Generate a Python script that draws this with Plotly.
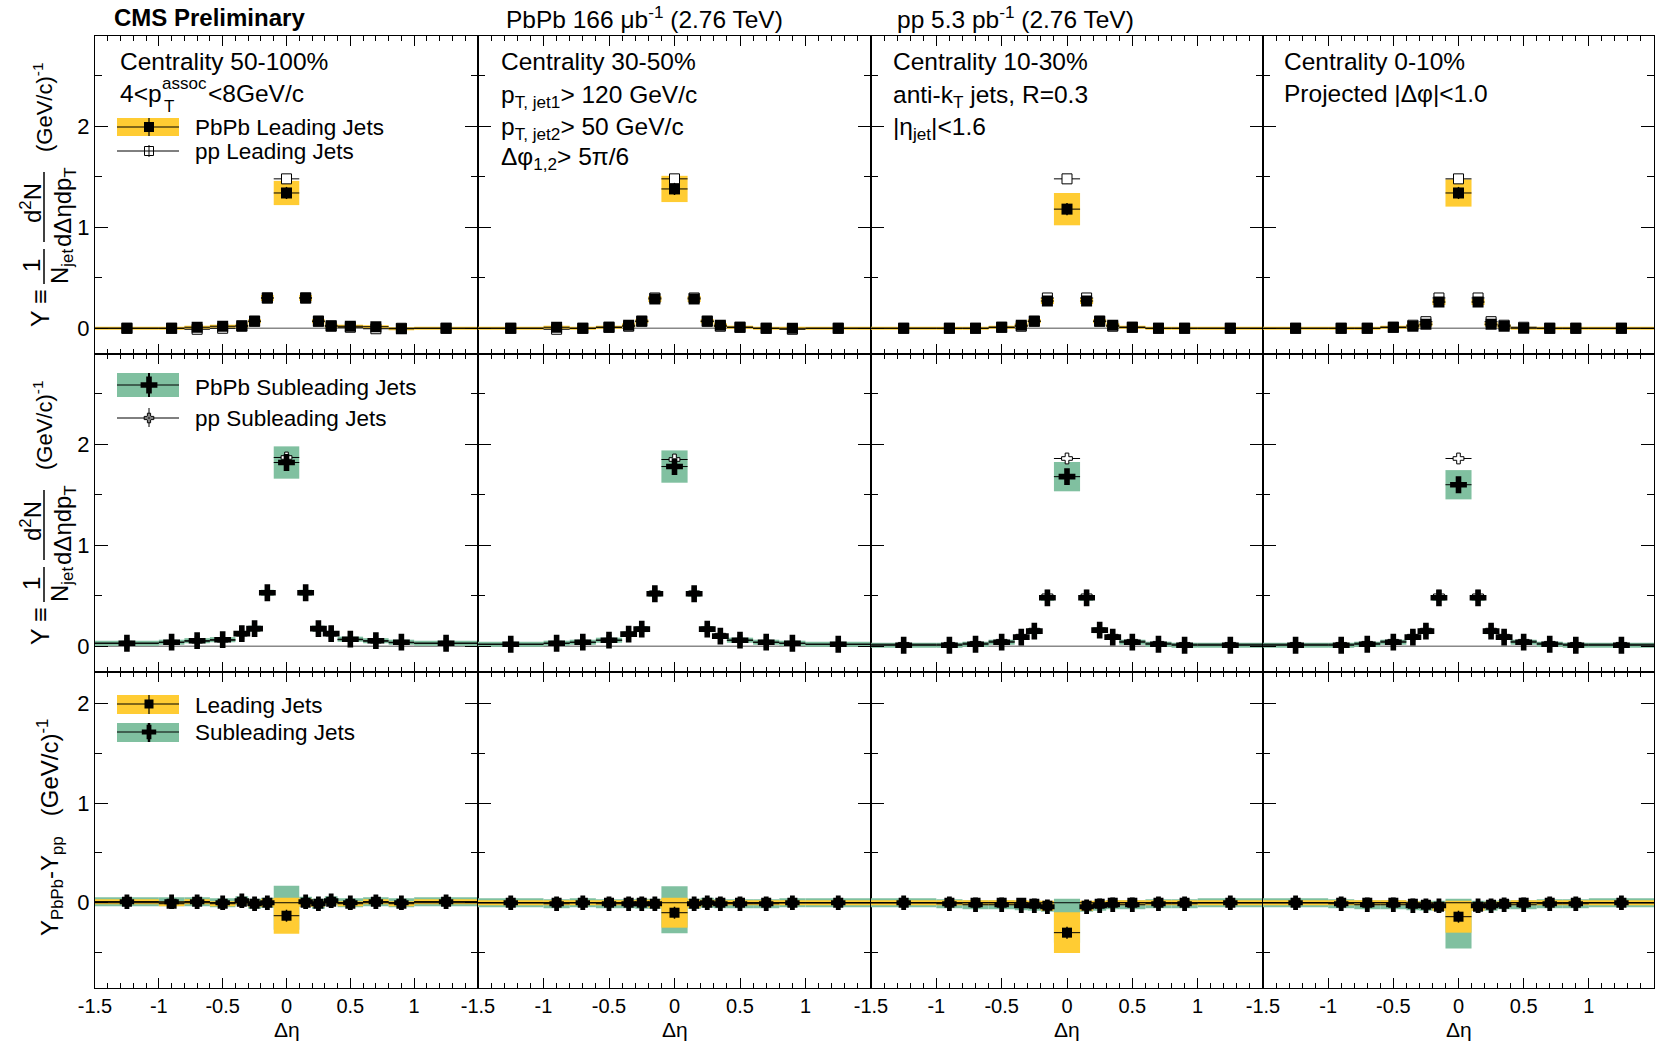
import plotly.graph_objects as go

W, H = 1675, 1041
FONT = "Liberation Sans, Arial, Helvetica, sans-serif"
YELLOW = "#FFCC33"
GREEN = "#80C0A0"

# ---------------- data ----------------
delta_eta = [-1.25, -0.9, -0.7, -0.5, -0.35, -0.25, -0.15, 0.0, 0.15, 0.25, 0.35, 0.5, 0.7, 0.9, 1.25]
bin_half_width = [0.25, 0.1, 0.1, 0.1, 0.05, 0.05, 0.05, 0.1, 0.05, 0.05, 0.05, 0.1, 0.1, 0.1, 0.25]

x_tick_vals = [-1.5, -1, -0.5, 0, 0.5, 1, 1.5]
x_tick_text = ["-1.5", "-1", "-0.5", "0", "0.5", "1", ""]
y_tick_vals = [0, 1, 2]
y_tick_text = ["0", "1", "2"]

centrality_labels = ["Centrality 50-100%", "Centrality 30-50%", "Centrality 10-30%", "Centrality 0-10%"]

# Leading jets: PbPb yields
lead_pbpb_50_100 = [0.00, 0.00, 0.01, 0.02, 0.025, 0.07, 0.30, 1.34, 0.30, 0.07, 0.025, 0.02, 0.015, -0.005, 0.00]
lead_pbpb_30_50 = [0.00, 0.01, 0.00, 0.01, 0.03, 0.07, 0.29, 1.38, 0.29, 0.07, 0.03, 0.01, 0.00, 0.00, 0.00]
lead_pbpb_10_30 = [0.00, 0.00, 0.00, 0.01, 0.03, 0.07, 0.27, 1.18, 0.27, 0.07, 0.03, 0.01, 0.00, 0.00, 0.00]
lead_pbpb_0_10 = [0.00, 0.00, 0.00, 0.01, 0.02, 0.04, 0.26, 1.34, 0.26, 0.04, 0.02, 0.00, 0.00, 0.00, 0.00]
# Leading jets: pp yields
lead_pp_50_100 = [0.00, 0.00, -0.01, 0.00, 0.02, 0.07, 0.30, 1.48, 0.30, 0.07, 0.02, 0.01, -0.005, 0.00, 0.00]
lead_pp_30_50 = [0.00, -0.01, 0.00, 0.01, 0.02, 0.07, 0.30, 1.48, 0.30, 0.07, 0.02, 0.01, 0.00, -0.01, 0.00]
lead_pp_10_30 = [0.00, 0.00, 0.00, 0.01, 0.02, 0.07, 0.30, 1.48, 0.30, 0.07, 0.02, 0.01, 0.00, 0.00, 0.00]
lead_pp_0_10 = [0.00, 0.00, 0.00, 0.01, 0.03, 0.065, 0.30, 1.48, 0.30, 0.065, 0.03, 0.01, 0.00, 0.00, 0.00]
# Leading jets: PbPb systematic half-heights
lead_sys_50_100 = [0.015, 0.015, 0.015, 0.015, 0.02, 0.02, 0.03, 0.12, 0.03, 0.02, 0.02, 0.015, 0.015, 0.015, 0.015]
lead_sys_30_50 = [0.015, 0.015, 0.015, 0.015, 0.02, 0.02, 0.03, 0.13, 0.03, 0.02, 0.02, 0.015, 0.015, 0.015, 0.015]
lead_sys_10_30 = [0.015, 0.015, 0.015, 0.015, 0.02, 0.02, 0.03, 0.16, 0.03, 0.02, 0.02, 0.015, 0.015, 0.015, 0.015]
lead_sys_0_10 = [0.015, 0.015, 0.015, 0.015, 0.02, 0.02, 0.03, 0.135, 0.03, 0.02, 0.02, 0.015, 0.015, 0.015, 0.015]
lead_pbpb_stat = [0.01, 0.01, 0.01, 0.01, 0.01, 0.015, 0.02, 0.06, 0.02, 0.015, 0.01, 0.01, 0.01, 0.01, 0.01]
lead_pp_stat = [0.005, 0.005, 0.005, 0.005, 0.005, 0.01, 0.01, 0.02, 0.01, 0.01, 0.005, 0.005, 0.005, 0.005, 0.005]

# Subleading jets: PbPb yields
sub_pbpb_50_100 = [0.03, 0.04, 0.055, 0.065, 0.125, 0.175, 0.53, 1.82, 0.53, 0.175, 0.125, 0.07, 0.055, 0.04, 0.03]
sub_pbpb_30_50 = [0.02, 0.03, 0.04, 0.06, 0.12, 0.17, 0.52, 1.78, 0.52, 0.17, 0.10, 0.06, 0.04, 0.03, 0.02]
sub_pbpb_10_30 = [0.01, 0.01, 0.02, 0.04, 0.09, 0.15, 0.48, 1.68, 0.48, 0.16, 0.09, 0.04, 0.02, 0.01, 0.01]
sub_pbpb_0_10 = [0.01, 0.01, 0.02, 0.04, 0.09, 0.15, 0.48, 1.60, 0.48, 0.15, 0.09, 0.04, 0.02, 0.01, 0.01]
# Subleading jets: pp yields
sub_pp_50_100 = [0.03, 0.04, 0.05, 0.06, 0.12, 0.17, 0.53, 1.87, 0.53, 0.17, 0.12, 0.065, 0.05, 0.035, 0.03]
sub_pp_30_50 = [0.02, 0.03, 0.04, 0.06, 0.12, 0.17, 0.53, 1.85, 0.53, 0.17, 0.11, 0.06, 0.04, 0.03, 0.02]
sub_pp_10_30 = [0.02, 0.02, 0.03, 0.05, 0.10, 0.16, 0.50, 1.86, 0.50, 0.16, 0.10, 0.05, 0.03, 0.02, 0.02]
sub_pp_0_10 = [0.02, 0.02, 0.03, 0.05, 0.10, 0.16, 0.50, 1.86, 0.50, 0.16, 0.10, 0.05, 0.03, 0.02, 0.02]
# Subleading jets: PbPb systematic half-heights
sub_sys_50_100 = [0.025, 0.025, 0.025, 0.025, 0.025, 0.03, 0.03, 0.16, 0.03, 0.03, 0.025, 0.025, 0.025, 0.025, 0.025]
sub_sys_30_50 = [0.025, 0.025, 0.025, 0.025, 0.025, 0.03, 0.03, 0.16, 0.03, 0.03, 0.025, 0.025, 0.025, 0.025, 0.025]
sub_sys_10_30 = [0.025, 0.025, 0.025, 0.025, 0.025, 0.03, 0.03, 0.145, 0.03, 0.03, 0.025, 0.025, 0.025, 0.025, 0.025]
sub_sys_0_10 = [0.025, 0.025, 0.025, 0.025, 0.025, 0.03, 0.03, 0.145, 0.03, 0.03, 0.025, 0.025, 0.025, 0.025, 0.025]
sub_pbpb_stat = [0.015, 0.015, 0.015, 0.015, 0.02, 0.02, 0.03, 0.075, 0.03, 0.02, 0.02, 0.015, 0.015, 0.015, 0.015]
sub_pp_stat = [0.005, 0.005, 0.005, 0.005, 0.01, 0.01, 0.01, 0.02, 0.01, 0.01, 0.01, 0.005, 0.005, 0.005, 0.005]

# PbPb - pp differences: leading
dlead_50_100 = [0.01, -0.01, 0.01, -0.01, 0.01, -0.01, 0.00, -0.13, 0.00, -0.01, 0.01, -0.01, 0.01, -0.01, 0.01]
dlead_30_50 = [0.00, 0.00, 0.00, 0.00, 0.00, 0.00, -0.01, -0.10, -0.01, 0.00, 0.00, 0.00, 0.00, 0.00, 0.00]
dlead_10_30 = [0.00, 0.00, 0.00, 0.00, 0.00, -0.01, -0.03, -0.30, -0.03, -0.01, 0.00, 0.00, 0.00, 0.00, 0.00]
dlead_0_10 = [0.00, 0.00, 0.00, 0.00, -0.01, -0.02, -0.04, -0.14, -0.04, -0.02, -0.01, 0.00, 0.00, 0.00, 0.00]
dlead_sys_50_100 = [0.025, 0.025, 0.025, 0.025, 0.025, 0.03, 0.04, 0.18, 0.04, 0.03, 0.025, 0.025, 0.025, 0.025, 0.025]
dlead_sys_30_50 = [0.025, 0.025, 0.025, 0.025, 0.025, 0.03, 0.04, 0.15, 0.04, 0.03, 0.025, 0.025, 0.025, 0.025, 0.025]
dlead_sys_10_30 = [0.025, 0.025, 0.025, 0.025, 0.025, 0.03, 0.05, 0.205, 0.05, 0.03, 0.025, 0.025, 0.025, 0.025, 0.025]
dlead_sys_0_10 = [0.025, 0.025, 0.025, 0.025, 0.025, 0.03, 0.04, 0.16, 0.04, 0.03, 0.025, 0.025, 0.025, 0.025, 0.025]
dlead_stat = [0.03, 0.03, 0.03, 0.03, 0.03, 0.03, 0.03, 0.06, 0.03, 0.03, 0.03, 0.03, 0.03, 0.03, 0.03]
# PbPb - pp differences: subleading
dsub_50_100 = [0.01, 0.01, 0.01, 0.00, 0.02, -0.01, 0.00, -0.05, 0.01, -0.01, 0.02, 0.00, 0.01, 0.00, 0.01]
dsub_30_50 = [0.00, -0.01, 0.00, -0.01, -0.01, -0.01, -0.01, -0.07, -0.01, 0.00, -0.01, -0.01, -0.01, 0.00, 0.00]
dsub_10_30 = [0.00, -0.01, -0.02, -0.02, -0.03, -0.03, -0.04, -0.18, -0.04, -0.03, -0.02, -0.02, -0.01, -0.01, 0.00]
dsub_0_10 = [0.00, -0.01, -0.02, -0.02, -0.03, -0.03, -0.03, -0.21, -0.03, -0.03, -0.02, -0.02, -0.01, -0.01, 0.00]
dsub_sys_50_100 = [0.045, 0.045, 0.045, 0.045, 0.045, 0.05, 0.05, 0.22, 0.05, 0.05, 0.045, 0.045, 0.045, 0.045, 0.045]
dsub_sys_30_50 = [0.045, 0.045, 0.045, 0.045, 0.045, 0.05, 0.05, 0.235, 0.05, 0.05, 0.045, 0.045, 0.045, 0.045, 0.045]
dsub_sys_10_30 = [0.045, 0.045, 0.045, 0.045, 0.045, 0.05, 0.05, 0.22, 0.05, 0.05, 0.045, 0.045, 0.045, 0.045, 0.045]
dsub_sys_0_10 = [0.045, 0.045, 0.045, 0.045, 0.045, 0.05, 0.05, 0.25, 0.05, 0.05, 0.045, 0.045, 0.045, 0.045, 0.045]
dsub_stat = [0.05, 0.05, 0.05, 0.05, 0.05, 0.05, 0.05, 0.08, 0.05, 0.05, 0.05, 0.05, 0.05, 0.05, 0.05]

lead_pbpb = [lead_pbpb_50_100, lead_pbpb_30_50, lead_pbpb_10_30, lead_pbpb_0_10]
lead_pp = [lead_pp_50_100, lead_pp_30_50, lead_pp_10_30, lead_pp_0_10]
lead_sys = [lead_sys_50_100, lead_sys_30_50, lead_sys_10_30, lead_sys_0_10]
sub_pbpb = [sub_pbpb_50_100, sub_pbpb_30_50, sub_pbpb_10_30, sub_pbpb_0_10]
sub_pp = [sub_pp_50_100, sub_pp_30_50, sub_pp_10_30, sub_pp_0_10]
sub_sys = [sub_sys_50_100, sub_sys_30_50, sub_sys_10_30, sub_sys_0_10]
dlead = [dlead_50_100, dlead_30_50, dlead_10_30, dlead_0_10]
dlead_sys = [dlead_sys_50_100, dlead_sys_30_50, dlead_sys_10_30, dlead_sys_0_10]
dsub = [dsub_50_100, dsub_30_50, dsub_10_30, dsub_0_10]
dsub_sys = [dsub_sys_50_100, dsub_sys_30_50, dsub_sys_10_30, dsub_sys_0_10]

# ---------------- layout geometry (pixels) ----------------
col_px = [95, 478, 871, 1263, 1654]
row_px = [36, 354, 672, 988]
y_range_rows = [[-0.255, 2.895], [-0.255, 2.895], [-0.855, 2.314]]

fig = go.Figure()
layout = {}


def ax(k, kind):
    return kind if k == 1 else f"{kind}{k}"


def add_boxes(k, vals, sys, color):
    fig.add_trace(go.Bar(
        x=delta_eta, y=[2 * s for s in sys], base=[v - s for v, s in zip(vals, sys)],
        width=[2 * w for w in bin_half_width],
        marker=dict(color=color, line=dict(width=0)),
        xaxis=ax(k, "x"), yaxis=ax(k, "y"), showlegend=False, hoverinfo="skip"))


def add_points(k, vals, err, symbol, size, fill, lw, ethick):
    fig.add_trace(go.Scatter(
        x=delta_eta, y=vals, mode="markers",
        marker=dict(symbol=symbol, size=size, color=fill, line=dict(color="black", width=lw)),
        error_x=dict(type="data", array=bin_half_width, width=0, thickness=1, color="black"),
        error_y=dict(type="data", array=err, width=0, thickness=ethick, color="black"),
        xaxis=ax(k, "x"), yaxis=ax(k, "y"), showlegend=False, hoverinfo="skip"))


shapes = []
annotations = []

for r in range(3):
    for c in range(4):
        k = r * 4 + c + 1
        layout["xaxis" if k == 1 else f"xaxis{k}"] = dict(
            domain=[col_px[c] / W, col_px[c + 1] / W], anchor=ax(k, "y"),
            range=[-1.5, 1.5], showline=True, linecolor="black", linewidth=1,
            mirror="allticks", ticks="inside", ticklen=10, tickwidth=1, tickcolor="black",
            tickvals=x_tick_vals, ticktext=x_tick_text, showticklabels=(r == 2),
            tickfont=dict(family=FONT, size=20, color="black"),
            minor=dict(ticks="inside", ticklen=5, tickwidth=1, tickcolor="black", dtick=0.1, tick0=-1.5),
            showgrid=False, zeroline=False, fixedrange=True, automargin=False)
        layout["yaxis" if k == 1 else f"yaxis{k}"] = dict(
            domain=[1 - row_px[r + 1] / H, 1 - row_px[r] / H], anchor=ax(k, "x"),
            range=y_range_rows[r], showline=True, linecolor="black", linewidth=1,
            mirror="allticks", ticks="inside", ticklen=13, tickwidth=1, tickcolor="black",
            tickvals=y_tick_vals, ticktext=y_tick_text, showticklabels=(c == 0),
            tickfont=dict(family=FONT, size=22, color="black"),
            minor=dict(ticks="inside", ticklen=7, tickwidth=1, tickcolor="black", dtick=0.5, tick0=0),
            showgrid=False, zeroline=False, fixedrange=True, automargin=False)

        if r == 0:
            add_boxes(k, lead_pbpb[c], lead_sys[c], YELLOW)
            add_points(k, lead_pp[c], lead_pp_stat, "square", 10, "white", 1, 1)
            add_points(k, lead_pbpb[c], lead_pbpb_stat, "square", 11, "black", 0, 1.5)
            shapes.append(dict(type="line", xref=f"{ax(k,'x')} domain", yref=ax(k, "y"),
                               x0=0, x1=1, y0=0, y1=0, line=dict(color="#888888", width=1.5), layer="below"))
        elif r == 1:
            add_boxes(k, sub_pbpb[c], sub_sys[c], GREEN)
            add_points(k, sub_pp[c], sub_pp_stat, "cross", 9, "white", 1, 1)
            add_points(k, sub_pbpb[c], sub_pbpb_stat, "cross", 14, "black", 0, 2)
            shapes.append(dict(type="line", xref=f"{ax(k,'x')} domain", yref=ax(k, "y"),
                               x0=0, x1=1, y0=0, y1=0, line=dict(color="#888888", width=1.5), layer="below"))
        else:
            add_boxes(k, dsub[c], dsub_sys[c], GREEN)
            add_boxes(k, dlead[c], dlead_sys[c], YELLOW)
            # central subleading marker is hidden under the leading systematic box in the original
            dsub_visible = [None if x == 0.0 else v for x, v in zip(delta_eta, dsub[c])]
            add_points(k, dsub_visible, dsub_stat, "cross", 12, "black", 0, 3)
            add_points(k, dlead[c], dlead_stat, "square", 10, "black", 0, 1.5)
            shapes.append(dict(type="line", xref=f"{ax(k,'x')} domain", yref=ax(k, "y"),
                               x0=0, x1=1, y0=0, y1=0, line=dict(color="black", width=1), layer="above"))

# overlay pixel axis for text & legend glyphs
PX = "x13"
PY = "y13"
layout["xaxis13"] = dict(domain=[0, 1], range=[0, W], visible=False, fixedrange=True,
                         anchor="y13", automargin=False)
layout["yaxis13"] = dict(domain=[0, 1], range=[H, 0], visible=False, fixedrange=True,
                         anchor="x13", automargin=False)


def text(t, x, y, size=22, anchor="left", bold=False, angle=0, yanchor="middle"):
    annotations.append(dict(
        text=f"<b>{t}</b>" if bold else t, x=x, y=y, xref=PX, yref=PY,
        xanchor=anchor, yanchor=yanchor, showarrow=False, textangle=angle,
        font=dict(family=FONT, size=size, color="black")))


def pline(x0, y0, x1, y1, w=1, color="black", layer="above"):
    shapes.append(dict(type="line", xref=PX, yref=PY, x0=x0, y0=y0, x1=x1, y1=y1,
                       line=dict(color=color, width=w), layer=layer))


def prect(x0, y0, x1, y1, color):
    shapes.append(dict(type="rect", xref=PX, yref=PY, x0=x0, y0=y0, x1=x1, y1=y1,
                       fillcolor=color, line=dict(width=0), layer="below"))


def legend_marker(x, y, symbol, size, fill, lw):
    fig.add_trace(go.Scatter(x=[x], y=[y], mode="markers", xaxis=PX, yaxis=PY,
                             marker=dict(symbol=symbol, size=size, color=fill, line=dict(color="black", width=lw)),
                             showlegend=False, hoverinfo="skip", cliponaxis=False))


TS = 24.5  # panel text size

# header
text("CMS Preliminary", 112, 17, size=24, bold=True)
text("PbPb 166 μb<sup>-1</sup> (2.76 TeV)", 504, 17, size=24.5)
text("pp 5.3 pb<sup>-1</sup> (2.76 TeV)", 895, 17, size=24.5)

# panel labels
text(centrality_labels[0], 118, 61, size=TS)
text("4&lt;p", 118, 93, size=TS)
text("T", 162, 106, size=17)
text("assoc", 160, 83, size=17)
text("&lt;8GeV/c", 206, 93, size=TS)

text(centrality_labels[1], 499, 61, size=TS)
text("p<sub>T, jet1</sub>&gt; 120 GeV/c", 499, 96, size=TS)
text("p<sub>T, jet2</sub>&gt; 50 GeV/c", 499, 128, size=TS)
text("Δφ<sub>1,2</sub>&gt; 5π/6", 499, 158, size=TS)

text(centrality_labels[2], 891, 61, size=TS)
text("anti-k<sub>T</sub> jets, R=0.3", 891, 96, size=TS)
text("|η<sub>jet</sub>|&lt;1.6", 891, 128, size=TS)

text(centrality_labels[3], 1282, 61, size=TS)
text("Projected |Δφ|&lt;1.0", 1282, 93, size=TS)

# legends
LX0, LX1, LXC, TX = 117, 179, 149, 193
LS = 22.5
# row 1
prect(LX0, 118, LX1, 136, YELLOW)
legend_marker(LXC, 127, "square", 10, "black", 0)
pline(LX0, 127, LX1, 127, 1.2)
pline(LXC, 118, LXC, 136, 1.2)
text("PbPb Leading Jets", TX, 127, size=LS)
legend_marker(LXC, 151, "square", 9, "white", 1)
pline(LX0, 151, LX1, 151, 1)
pline(LXC, 145, LXC, 157, 1)
text("pp Leading Jets", TX, 151, size=LS)
# row 2
prect(LX0, 373, LX1, 397, GREEN)
legend_marker(LXC, 385, "cross", 14, "black", 0)
pline(LX0, 385, LX1, 385, 1.2)
pline(LXC, 373, LXC, 397, 2)
text("PbPb Subleading Jets", TX, 387, size=LS)
legend_marker(LXC, 418, "cross", 8, "white", 1)
pline(LX0, 418, LX1, 418, 1)
pline(LXC, 408, LXC, 427, 1)
text("pp Subleading Jets", TX, 418, size=LS)
# row 3
prect(LX0, 695, LX1, 714, YELLOW)
legend_marker(LXC, 704, "square", 9, "black", 0)
pline(LX0, 704, LX1, 704, 1.2)
pline(LXC, 695, LXC, 714, 1.2)
text("Leading Jets", TX, 705, size=LS)
prect(LX0, 723, LX1, 742, GREEN)
legend_marker(LXC, 732, "cross", 12, "black", 0)
pline(LX0, 732, LX1, 732, 1.2)
pline(LXC, 723, LXC, 742, 2.5)
text("Subleading Jets", TX, 732, size=LS)

# y-axis titles (rows 1 & 2)
for dy in (0, 318):
    text("Y ≡", 40, 308 + dy, size=25, anchor="center", angle=-90)
    text("1", 31, 266 + dy, size=24, anchor="center", angle=-90)
    pline(44, 249 + dy, 44, 284 + dy, 1.5)
    text("N<sub>jet</sub>", 61, 267 + dy, size=24, anchor="center", angle=-90)
    text("d<sup>2</sup>N", 31, 203 + dy, size=24, anchor="center", angle=-90)
    pline(44, 172 + dy, 44, 242 + dy, 1.5)
    text("dΔηdp<sub>T</sub>", 64, 207 + dy, size=24, anchor="center", angle=-90)
    text("(GeV/c)<sup>-1</sup>", 43, 108 + dy, size=22, anchor="center", angle=-90)
# row 3 title
text("Y<sub>PbPb</sub>-Y<sub>pp</sub>\u00a0\u00a0\u00a0(GeV/c)<sup>-1</sup>", 50, 828, size=24,
     anchor="center", angle=-90)

# x-axis titles
for c in range(4):
    text("Δη", (col_px[c] + col_px[c + 1]) / 2, 1029, size=21, anchor="center")

fig.update_layout(
    width=W, height=H, margin=dict(l=0, r=0, t=0, b=0, pad=0, autoexpand=False),
    paper_bgcolor="white", plot_bgcolor="rgba(0,0,0,0)",
    barmode="overlay", showlegend=False,
    shapes=shapes, annotations=annotations,
    font=dict(family=FONT, color="black"),
    **layout)

fig.write_html("out.html")
